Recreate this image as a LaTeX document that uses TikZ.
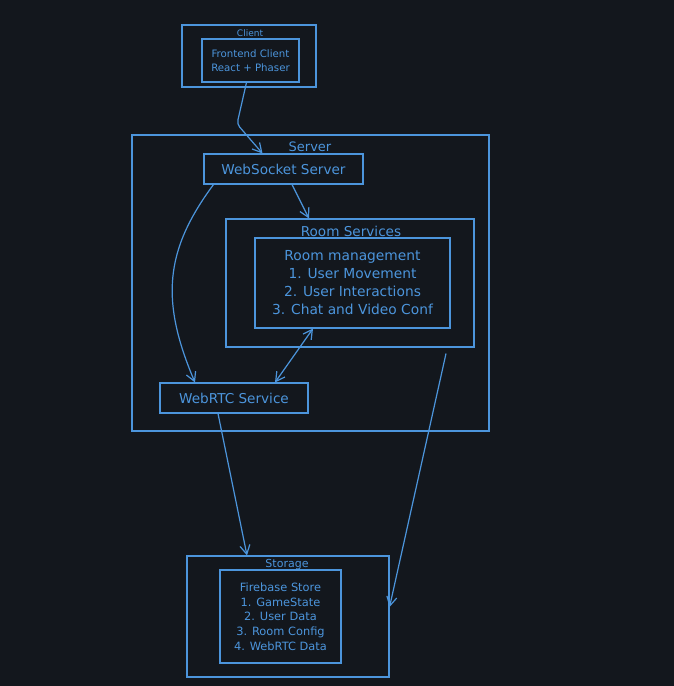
\documentclass[tikz,border=0pt]{standalone}
\usepackage{fontspec}
\setmainfont{DejaVu Sans}
\usepackage{tikz}
\usetikzlibrary{arrows.meta,calc,positioning}
\definecolor{PageBg}{HTML}{13171D}
\definecolor{SketchBlue}{HTML}{4C95DC}
\tikzset{
  box/.style={rectangle, draw=SketchBlue, line width=1.1pt, inner sep=0pt, text=SketchBlue},
  title/.style={text=SketchBlue, inner sep=1pt, anchor=center},
  flow/.style={draw=SketchBlue, line width=1.2pt, -{Straight Barb[length=9pt,width=10pt]}},
  flowboth/.style={draw=SketchBlue, line width=1.2pt, {Straight Barb[length=9pt,width=10pt]}-{Straight Barb[length=9pt,width=10pt]}},
}

\begin{document}
\begin{tikzpicture}[x=1pt, y=-1pt]
\fill[PageBg] (0,0) rectangle (674,686);
\useasboundingbox (0,0) rectangle (674,686);
% ---------------------------------------------------------------- client
\node[box, minimum width=134pt, minimum height=62pt] (clientOuter) at (249,56) {};
\node[title, font=\fontsize{9}{11}\selectfont] (clientTitle) at (250,33) {Client};
\node[box, minimum width=97pt, minimum height=43pt, align=center,
      font=\fontsize{10.2}{13.5}\selectfont] (clientInner) at (250.5,60.5) {Frontend Client\\React + Phaser};
% ---------------------------------------------------------------- server
\node[box, minimum width=357pt, minimum height=296pt] (serverOuter) at (310.5,283) {};
\node[title, font=\fontsize{13}{15}\selectfont] (serverTitle) at (310,147) {Server};
\node[box, minimum width=159pt, minimum height=30pt, font=\fontsize{13.6}{15}\selectfont] (wsBox) at (283.5,169) {WebSocket Server};
\node[box, minimum width=248pt, minimum height=128pt] (roomOuter) at (350,283) {};
\node[title, font=\fontsize{13.6}{15}\selectfont] (roomTitle) at (351,231) {Room Services};
\node[box, minimum width=195pt, minimum height=90pt, align=center,
      font=\fontsize{13.8}{18}\selectfont] (roomInner) at (352.5,283)
      {Room management\\1. User Movement\\2. User Interactions\\3. Chat and Video Conf};
\node[box, minimum width=148pt, minimum height=30pt, font=\fontsize{13.6}{15}\selectfont] (rtcBox) at (234,398) {WebRTC Service};
% ---------------------------------------------------------------- storage
\node[box, minimum width=202pt, minimum height=121pt] (storeOuter) at (288,616.5) {};
\node[title, font=\fontsize{11}{13}\selectfont] (storeTitle) at (287,565) {Storage};
\node[box, minimum width=121pt, minimum height=93pt, align=center,
      font=\fontsize{11.4}{14.7}\selectfont] (storeInner) at (280.5,616.5)
      {Firebase Store\\1. GameState\\2. User Data\\3. Room Config\\4. WebRTC Data};
% ---------------------------------------------------------------- connectors
\draw[flow, rounded corners=4pt] ([xshift=-4pt]clientInner.south) -- (237,124) -- ([xshift=-21pt]wsBox.north);
\draw[flow] ([xshift=8.5pt]wsBox.south) -- ([xshift=-41pt]roomOuter.north);
\draw[flow] ([xshift=-70pt]wsBox.south) .. controls (165,250) and (160,300) .. ([xshift=-39pt]rtcBox.north);
\draw[flowboth] ([xshift=41pt]rtcBox.north) -- ([xshift=-39.5pt]roomInner.south);
\draw[flow] ([xshift=-16pt]rtcBox.south) -- ([xshift=-41pt]storeOuter.north);
\draw[flow] ([xshift=96pt,yshift=-6pt]roomOuter.south) -- ([yshift=9.5pt]storeOuter.east);
\end{tikzpicture}
\end{document}
